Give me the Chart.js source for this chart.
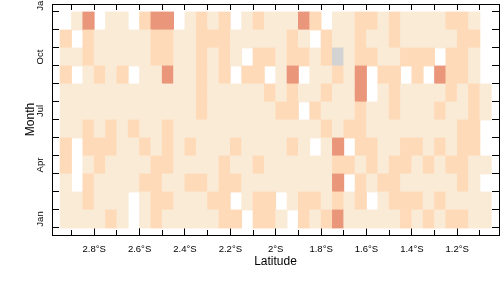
<!DOCTYPE html>
<html>
<head>
<meta charset="utf-8">
<script src="https://cdn.jsdelivr.net/npm/chart.js@4.4.1/dist/chart.umd.min.js"></script>
<style>
html,body{margin:0;padding:0;background:#fff;}
</style>
</head>
<body>
<canvas id="c" width="504" height="288"></canvas>
<script>
// ---- data ----
const LATITUDES = [-2.925,-2.875,-2.825,-2.775,-2.725,-2.675,-2.625,-2.575,-2.525,-2.475,
  -2.425,-2.375,-2.325,-2.275,-2.225,-2.175,-2.125,-2.075,-2.025,-1.975,
  -1.925,-1.875,-1.825,-1.775,-1.725,-1.675,-1.625,-1.575,-1.525,-1.475,
  -1.425,-1.375,-1.325,-1.275,-1.225,-1.175,-1.125,-1.075];
const MONTHS = ['Jan','Feb','Mar','Apr','May','Jun','Jul','Aug','Sep','Oct','Nov','Dec'];

// level per latitude cell: 0 = no data, 1..3 = increasing class, 4 = grey class
const LEVELS_JAN = [1,1,1,1,2,1,0,1,2,1, 1,1,1,1,2,2,0,2,2,1, 0,2,1,2,3,1,1,1,1,1, 2,1,2,1,2,2,1,1];
const LEVELS_FEB = [1,1,2,1,1,1,0,1,2,2, 1,1,1,2,2,0,1,2,2,0, 1,2,2,1,2,1,2,0,1,2, 2,2,1,2,1,1,1,1];
const LEVELS_MAR = [1,0,2,1,1,1,1,2,2,1, 1,2,2,1,2,2,1,1,1,1, 1,1,1,1,3,0,2,1,2,2, 1,1,1,1,1,2,1,0];
const LEVELS_APR = [2,0,1,2,1,1,1,1,2,2, 1,1,1,1,2,1,1,2,1,1, 1,1,1,1,2,2,1,2,1,2, 2,1,2,1,2,2,1,1];
const LEVELS_MAY = [2,0,2,2,2,1,1,2,1,2, 1,2,1,1,1,2,1,1,1,1, 2,1,0,1,3,0,2,2,1,1, 2,2,1,2,1,2,2,0];
const LEVELS_JUN = [1,1,2,1,2,1,2,1,1,2, 1,1,1,1,1,1,1,1,1,1, 1,1,1,2,1,2,2,1,1,1, 1,1,1,1,1,2,2,0];
const LEVELS_JUL = [1,1,1,1,1,1,1,1,1,1, 1,1,2,1,1,1,1,1,1,2, 2,0,2,1,1,1,2,1,1,2, 1,1,1,2,1,1,2,1];
const LEVELS_AUG = [1,1,1,1,1,1,1,1,1,1, 1,1,2,1,1,1,1,1,2,1, 2,1,1,2,1,1,3,0,1,2, 1,1,1,1,2,1,2,1];
const LEVELS_SEP = [2,0,1,2,1,2,0,1,1,3, 1,1,2,1,2,0,2,2,0,1, 3,0,1,1,2,1,3,0,2,2, 0,2,0,3,2,2,1,0];
const LEVELS_OCT = [1,1,2,1,1,1,1,1,2,2, 1,1,2,1,2,1,0,2,2,1, 2,2,1,2,4,1,2,2,1,1, 2,2,2,0,2,2,1,0];
const LEVELS_NOV = [2,0,2,1,1,1,1,1,2,2, 1,1,2,2,2,1,1,1,1,1, 2,1,0,2,1,1,2,1,1,2, 1,1,1,1,1,2,2,0];
const LEVELS_DEC = [0,1,3,0,1,1,0,2,3,3, 0,1,2,1,2,0,1,2,1,1, 1,3,2,0,1,1,2,2,1,2, 1,1,1,1,2,2,1,0];
const MONTH_LEVELS = [LEVELS_JAN,LEVELS_FEB,LEVELS_MAR,LEVELS_APR,LEVELS_MAY,LEVELS_JUN,
  LEVELS_JUL,LEVELS_AUG,LEVELS_SEP,LEVELS_OCT,LEVELS_NOV,LEVELS_DEC];

const LEVEL_COLORS = ['rgba(255,255,255,0)','#FAEBD7','#FFDAB9','#E9967A','#D3D3D3'];

// tick labels
const LAT_TICKS = [-2.8,-2.6,-2.4,-2.2,-2.0,-1.8,-1.6,-1.4,-1.2];
const LAT_TICK_LABELS = ['2.8°S','2.6°S','2.4°S','2.2°S','2°S','1.8°S','1.6°S','1.4°S','1.2°S'];
const LAT_MINOR_TICKS = [-2.9,-2.7,-2.5,-2.3,-2.1,-1.9,-1.7,-1.5,-1.3,-1.1];
const MONTH_TICKS = [0,3,6,9,12];
const MONTH_TICK_LABELS = ['Jan','Apr','Jul','Oct','Jan'];
const MONTH_BOUNDARIES = [-0.5,0.5,1.5,2.5,3.5,4.5,5.5,6.5,7.5,8.5,9.5,10.5,11.5];

// ---- chart ----
const FONT = "'Liberation Sans', Arial, Helvetica, sans-serif";
const X_MIN = -2.986, X_MAX = -1.016;
const Y_MIN = -0.889, Y_MAX = 11.944;

const datasets = MONTH_LEVELS.map((levels, m) => ({
  label: MONTHS[m],
  data: LATITUDES.map(lat => ({x: lat, y: [m - 0.5, m + 0.5]})),
  backgroundColor: levels.map(l => LEVEL_COLORS[l]),
  borderWidth: 0, grouped: false, barPercentage: 1, categoryPercentage: 1, inflateAmount: 0.4,
  xAxisID: 'x', yAxisID: 'y'
}));

function zeroPad(s) { s.paddingLeft = 0; s.paddingRight = 0; s.paddingTop = 0; s.paddingBottom = 0; }
const black = '#000';
const noTicks = {display: false};

new Chart(document.getElementById('c'), {
  type: 'bar',
  data: {datasets},
  options: {
    responsive: false, animation: false, indexAxis: 'x', devicePixelRatio: 1,
    layout: {padding: 0},
    plugins: {legend: {display: false}, tooltip: {enabled: false}},
    scales: {
      xMinor: {
        type: 'linear', position: 'bottom', weight: 0, min: X_MIN, max: X_MAX, offset: false,
        afterBuildTicks: s => { s.ticks = LAT_MINOR_TICKS.map(v => ({value: v})); },
        afterFit: s => { s.height = 0; zeroPad(s); },
        ticks: noTicks,
        grid: {display: true, offset: false, drawOnChartArea: false, drawTicks: true, tickLength: -5, tickColor: black, tickWidth: 1},
        border: {display: true, color: black, width: 1}
      },
      x: {
        type: 'linear', position: 'bottom', weight: 1, min: X_MIN, max: X_MAX, offset: false,
        afterBuildTicks: s => { s.ticks = LAT_TICKS.map(v => ({value: v})); },
        afterFit: s => { s.height = 53; zeroPad(s); },
        ticks: {
          autoSkip: false, minRotation: 0, maxRotation: 0, padding: 15.7, color: black,
          font: {family: FONT, size: 9.5},
          callback: v => { const k = LAT_TICKS.findIndex(t => Math.abs(t - v) < 1e-9); return k >= 0 ? LAT_TICK_LABELS[k] : ''; }
        },
        grid: {display: true, offset: false, drawOnChartArea: false, drawTicks: true, tickLength: -7, tickColor: black, tickWidth: 1},
        border: {display: true, color: black, width: 1},
        title: {display: true, text: 'Latitude', color: black, font: {family: FONT, size: 12}, padding: {top: 0, bottom: 18.9}}
      },
      xTop: {
        type: 'linear', position: 'top', min: X_MIN, max: X_MAX, offset: false,
        afterBuildTicks: s => { s.ticks = LAT_MINOR_TICKS.concat(LAT_TICKS).sort((a, b) => a - b).map(v => ({value: v})); },
        afterFit: s => { s.height = 4; zeroPad(s); },
        ticks: noTicks,
        grid: {display: true, offset: false, drawOnChartArea: false, drawTicks: true, tickLength: -6, tickColor: black, tickWidth: 1},
        border: {display: true, color: black, width: 1}
      },
      y: {
        type: 'linear', position: 'left', min: Y_MIN, max: Y_MAX, offset: false,
        afterBuildTicks: s => { s.ticks = MONTH_TICKS.concat(MONTH_BOUNDARIES).sort((a, b) => a - b).map(v => ({value: v})); },
        afterFit: s => { s.width = 52; zeroPad(s); },
        ticks: {
          autoSkip: false, minRotation: 90, maxRotation: 90, crossAlign: 'center', padding: 11, color: black,
          font: {family: FONT, size: 9.5},
          callback: v => { const k = MONTH_TICKS.indexOf(v); return k >= 0 ? MONTH_TICK_LABELS[k] : ''; }
        },
        grid: {
          display: true, drawOnChartArea: false, drawTicks: true, tickLength: -7, tickWidth: 1,
          tickColor: ctx => (ctx.tick && MONTH_BOUNDARIES.includes(ctx.tick.value)) ? black : 'rgba(0,0,0,0)'
        },
        border: {display: true, color: black, width: 1},
        title: {display: true, text: 'Month', color: black, font: {family: FONT, size: 12}, padding: {top: 23.6, bottom: 0}}
      },
      yRight: {
        type: 'linear', position: 'right', min: Y_MIN, max: Y_MAX, offset: false,
        afterBuildTicks: s => { s.ticks = MONTH_BOUNDARIES.map(v => ({value: v})); },
        afterFit: s => { s.width = 5; zeroPad(s); },
        ticks: noTicks,
        grid: {display: true, drawOnChartArea: false, drawTicks: true, tickLength: -7, tickColor: black, tickWidth: 1},
        border: {display: true, color: black, width: 1}
      }
    }
  }
});
</script>
</body>
</html>
